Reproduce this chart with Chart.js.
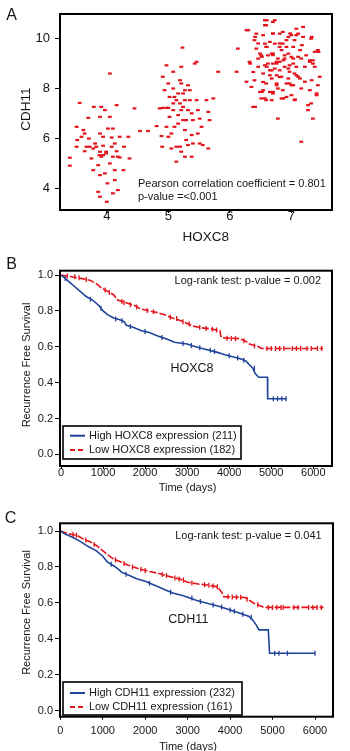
<!DOCTYPE html>
<html>
<head>
<meta charset="utf-8">
<script src="https://cdn.jsdelivr.net/npm/chart.js@4.4.0/dist/chart.umd.min.js"></script>
<style>
  html, body { margin: 0; padding: 0; background: #fff; overflow: hidden; }
  #wrap { position: relative; width: 350px; height: 751px; }
  canvas { position: absolute; left: 0; }
</style>
</head>
<body>
<div id="wrap">
  <canvas id="panelA" width="350" height="250" style="top:0"></canvas>
  <canvas id="panelB" width="350" height="250" style="top:250px"></canvas>
  <canvas id="panelC" width="350" height="260" style="top:500px"></canvas>
</div>
<script>
// ---- panel A: HOXC8 vs CDH11 expression ----
const hoxc8Expr = [
  3.40,3.40,3.56,3.51,3.52,3.62,3.64,3.70,3.71,3.75, 3.78,3.79,3.83,3.86,3.88,3.89,3.91,3.94,3.89,3.91,
  3.97,4.01,4.00,4.02,4.05,4.08,4.10,4.13,4.13,4.16, 4.16,4.18,4.21,4.27,4.28,4.35,4.37,3.67,3.72,3.78,
  3.89,3.94,3.99,4.05,3.86,3.89,4.10,4.05,3.51,3.59, 3.64,3.81,3.89,4.10,4.18,3.99,3.94,3.97,4.08,4.13,
  4.21,4.45,4.54,4.67,4.81,
  4.89,4.90,4.91,4.94,4.97,5.00,5.02,5.00,5.05,5.08, 5.08,5.10,5.13,5.16,5.16,5.19,5.21,5.23,5.24,5.24,
  5.27,5.29,5.32,5.35,5.38,5.38,5.40,5.43,5.46,5.46, 5.48,5.51,5.54,5.56,5.62,5.65,5.67,5.73,5.81,5.65,
  5.19,5.13,5.21,5.05,4.97,5.10,5.24,5.29,5.32,5.08, 5.02,5.08,5.16,5.21,5.27,5.35,5.40,5.48,5.51,4.86,
  4.91,4.97,5.27,5.00,5.19,5.21,5.13,5.27,5.32,5.38,
  6.11,6.13,6.27,6.27,6.32,6.35,6.38,6.40,6.43,6.46, 6.49,6.51,6.54,6.57,6.57,6.59,6.62,6.65,6.68,6.70,
  6.70,6.73,6.76,6.78,6.81,6.81,6.84,6.86,6.89,6.92, 6.95,6.97,7.00,7.03,7.05,7.05,7.08,7.11,7.14,7.16,
  7.19,7.22,7.24,7.27,7.30,7.32,7.35,7.38,7.41,7.43, 7.46,7.16,6.43,6.49,6.54,6.59,6.62,6.68,6.73,6.78,
  6.84,6.89,6.95,7.00,7.05,7.11,7.14,6.68,6.76,6.86, 6.92,6.97,7.03,7.08,6.59,6.65,6.70,6.76,6.81,6.86,
  6.92,7.00,6.78,6.84,6.40,6.46,6.59,6.65,7.22,7.30, 7.38,6.70,6.81,6.89,6.95,6.73,6.68,6.57,6.51,7.03,
  7.11,7.16,7.32,7.35,7.43,6.97,6.54,
  6.60,6.70,6.30,6.57,7.19,6.41,6.70,6.98,7.08,7.33, 6.46,6.60,6.81,6.92,7.17,7.44,6.52,6.70,6.87,7.03,
  7.30,6.33,6.60,6.76,6.95,7.35,6.38,6.65,6.81,7.08, 6.54,6.76,7.00,7.33,6.52,6.70,6.87,7.06,6.57,6.41,
  7.27,7.41
];
const cdh11Expr = [
  5.23,4.91,7.43,6.47,5.94,6.34,5.49,6.83,6.00,5.20, 4.73,7.27,5.67,4.93,5.33,6.87,7.27,5.71,4.53,5.27,
  4.60,4.20,3.46,6.40,6.87,6.04,5.27,5.80,4.33,7.34, 5.49,3.93,5.24,4.73,5.67,6.07,5.20,5.67,5.67,5.60,
  5.47,5.33,5.47,5.00,3.86,3.66,3.80,8.61,5.67,6.07, 6.20,5.80,6.20,6.40,5.27,5.40,6.07,7.14,5.67,4.73,
  6.07,7.21,6.30,6.30,6.50,
  6.10,5.67,8.48,7.94,8.94,7.23,6.87,6.07,5.60,8.68, 8.01,7.67,7.54,6.94,6.60,8.34,8.88,9.65,7.81,7.27,
  6.34,5.94,8.14,7.54,7.01,6.14,5.80,9.01,9.08,7.54, 7.14,6.80,6.47,5.74,7.54,7.07,6.74,7.61,8.68,5.60,
  5.67,5.07,5.47,6.20,6.47,6.47,6.74,6.74,7.14,7.14, 7.67,7.41,7.81,8.21,7.94,7.94,6.74,6.20,5.80,7.21,
  7.23,7.23,7.54,8.21,7.41,7.14,5.67,5.27,5.74,5.27,
  8.68,9.61,10.35,8.28,9.08,8.07,7.27,9.95,9.61,8.88, 7.87,7.61,10.15,9.81,10.75,10.55,9.34,8.74,8.41,10.21,
  7.81,10.75,9.08,6.80,9.68,8.74,8.48,9.81,9.34,8.21, 10.08,8.94,7.74,9.68,8.61,7.54,10.41,9.28,8.41,8.01,
  10.08,8.88,9.34,7.14,7.94,10.01,9.14,8.88,7.74,9.55, 8.48,5.87,10.21,9.41,8.61,8.21,9.01,9.41,9.81,9.21,
  9.55,8.88,8.41,9.28,9.95,10.21,9.55,7.54,8.21,7.94, 7.67,8.68,8.14,8.88,9.68,9.88,9.01,8.54,10.21,10.28,
  9.95,10.15,8.01,7.61,8.34,9.21,7.54,7.87,8.28,9.08, 9.48,9.41,9.08,9.21,9.41,8.81,8.74,8.94,9.34,9.01,
  8.48,9.21,7.41,6.80,8.14,8.21,7.94,
  10.75,10.68,10.35,10.55,10.48,10.08,10.22,10.22,10.15,10.08, 9.82,9.68,9.82,9.68,9.75,9.48,9.28,9.35,9.14,9.21,
  9.14,9.01,8.88,9.01,8.81,9.01,8.67,8.54,8.47,8.54, 8.27,8.14,8.14,8.34,7.87,7.87,7.61,7.57,7.61,7.27,
  7.34,7.81
];
const hoxc8Ticks = [4, 5, 6, 7];
const cdh11Ticks = [4, 6, 8, 10];

// ---- panels B and C: recurrence free survival ----
const dayTicks = [0, 1000, 2000, 3000, 4000, 5000, 6000];
const survTicks = [0, 0.2, 0.4, 0.6, 0.8, 1.0];

const hoxHighDays = [0,80,200,300,450,600,750,900,1000,1100,1250,1400,1500,1550,1700,1900,2100,2300,2500,2700,3000,3200,3450,3700,3900,4150,4300,4400,4480,4560,4620,4700,4910,4915,5360];
const hoxHighSurv = [1.0,0.985,0.96,0.94,0.91,0.88,0.86,0.83,0.80,0.78,0.76,0.75,0.74,0.72,0.71,0.69,0.68,0.66,0.645,0.625,0.615,0.60,0.585,0.57,0.555,0.54,0.53,0.52,0.50,0.48,0.45,0.43,0.43,0.31,0.31];
const hoxLowDays = [0,250,500,700,850,950,1100,1250,1350,1550,1750,1900,2100,2300,2500,2650,2850,3000,3150,3350,3550,3780,3800,3830,4250,4400,4480,4700,4770,6230];
const hoxLowSurv = [1.0,0.99,0.98,0.97,0.95,0.93,0.91,0.89,0.86,0.845,0.83,0.81,0.80,0.79,0.775,0.76,0.745,0.73,0.715,0.705,0.70,0.69,0.66,0.65,0.645,0.63,0.615,0.60,0.59,0.59];
const hoxHighCensDays = [100,700,950,1300,1450,1650,2000,2400,2900,3100,3300,3550,3650,4000,4200,4350,4600,5050,5150,5250,5350];
const hoxHighCensSurv = [0.98,0.865,0.815,0.755,0.745,0.713,0.685,0.652,0.618,0.607,0.594,0.58,0.573,0.55,0.537,0.525,0.48,0.31,0.31,0.31,0.31];
const hoxLowCensDays = [150,330,430,600,1050,1150,1450,1500,1650,1800,2050,2200,2600,2750,2900,3050,3300,3450,3600,3700,3950,4050,4150,4350,4600,4900,5000,5100,5200,5300,5500,5600,5700,5850,5950,6100,6200];
const hoxLowCensSurv = [0.995,0.99,0.985,0.975,0.917,0.903,0.852,0.845,0.834,0.822,0.802,0.795,0.765,0.757,0.74,0.727,0.707,0.702,0.697,0.694,0.647,0.646,0.645,0.634,0.604,0.59,0.59,0.59,0.59,0.59,0.59,0.59,0.59,0.59,0.59,0.59,0.59];

const cdhHighDays = [0,100,250,450,650,850,1000,1100,1300,1450,1600,1800,2000,2250,2450,2650,2900,3200,3500,3750,3950,4200,4450,4550,4620,4680,4900,4930,6000];
const cdhHighSurv = [1.0,0.985,0.97,0.945,0.915,0.89,0.86,0.83,0.80,0.77,0.755,0.735,0.72,0.695,0.675,0.655,0.64,0.615,0.595,0.58,0.565,0.545,0.525,0.50,0.475,0.45,0.45,0.32,0.32];
const cdhLowDays = [0,200,400,550,700,850,950,1100,1250,1400,1600,1850,2100,2300,2600,2850,3000,3250,3450,3700,3800,3850,4350,4450,4550,4750,4800,6200];
const cdhLowSurv = [1.0,0.985,0.975,0.955,0.94,0.92,0.90,0.87,0.845,0.83,0.81,0.79,0.775,0.765,0.745,0.73,0.715,0.705,0.70,0.69,0.66,0.635,0.63,0.615,0.60,0.58,0.575,0.575];
const cdhHighCensDays = [1200,1550,2100,2600,3100,3300,3600,3800,4000,4100,4300,4500,5050,5150,5350,6000];
const cdhHighCensSurv = [0.815,0.76,0.71,0.66,0.627,0.608,0.589,0.577,0.56,0.553,0.537,0.52,0.32,0.32,0.32,0.32];
const cdhLowCensDays = [300,380,600,800,1300,1500,1700,1900,2000,2400,2500,2700,2800,2900,3100,3400,3500,3600,3700,3950,4050,4150,4250,4400,4650,4900,5000,5100,5200,5250,5500,5600,5850,5950,6050,6150];
const cdhLowCensSurv = [0.98,0.977,0.95,0.925,0.84,0.82,0.80,0.787,0.781,0.758,0.752,0.739,0.733,0.727,0.711,0.701,0.698,0.694,0.69,0.634,0.633,0.632,0.631,0.62,0.59,0.575,0.575,0.575,0.575,0.575,0.575,0.575,0.575,0.575,0.575,0.575];

const FONT = "'Liberation Sans', Arial, sans-serif";
const RED = '#e3131b';
const BLUE = '#20439a';
const INK = '#161616';

Chart.defaults.font.family = FONT;
Chart.defaults.color = INK;

const pairs = (xs, ys) => xs.map((x, i) => ({ x: x, y: ys[i] }));

// frame, panel letter, annotations and the boxed legend
const panelDecor = {
  id: 'panelDecor',
  afterDraw(chart, args, opts) {
    const { ctx, chartArea: a } = chart;
    ctx.save();
    ctx.strokeStyle = '#000';
    ctx.lineWidth = 2;
    ctx.strokeRect(a.left, a.top, a.right - a.left, a.bottom - a.top);

    ctx.fillStyle = INK;
    ctx.textBaseline = 'middle';
    (opts.texts || []).forEach(t => {
      ctx.save();
      ctx.font = t.size + 'px ' + FONT;
      ctx.textAlign = t.align || 'center';
      ctx.translate(t.x, t.y);
      if (t.rotate) ctx.rotate(t.rotate);
      ctx.fillText(t.text, 0, 0);
      ctx.restore();
    });

    const lg = opts.legend;
    if (lg) {
      ctx.fillStyle = '#fff';
      ctx.fillRect(lg.x, lg.y, lg.w, lg.h);
      ctx.lineWidth = 1.6;
      ctx.strokeStyle = '#000';
      ctx.strokeRect(lg.x, lg.y, lg.w, lg.h);
      lg.items.forEach((it, i) => {
        const y = lg.rows[i];
        ctx.beginPath();
        ctx.strokeStyle = it.color;
        ctx.lineWidth = 2;
        ctx.setLineDash(it.dash || []);
        ctx.moveTo(lg.x + 7, y);
        ctx.lineTo(lg.x + 22, y);
        ctx.stroke();
        ctx.setLineDash([]);
        ctx.fillStyle = INK;
        ctx.font = '11px ' + FONT;
        ctx.textAlign = 'left';
        ctx.fillText(it.text, lg.x + 26, y);
      });
    }
    ctx.restore();
  }
};

function linearAxis(min, max, tickList, o) {
  return {
    type: 'linear',
    min: min,
    max: max,
    afterFit: s => { if (o.width) s.width = o.width; if (o.height) s.height = o.height; },
    afterBuildTicks: s => { s.ticks = tickList.map(v => ({ value: v })); },
    grid: { drawOnChartArea: false, drawTicks: true, tickLength: o.tick, color: '#000', lineWidth: 1 },
    border: { display: false },
    ticks: {
      padding: o.pad,
      autoSkip: false,
      maxRotation: 0,
      color: INK,
      font: { size: o.size, lineHeight: 1 },
      callback: o.fmt || (v => v)
    }
  };
}

const baseOptions = {
  responsive: false,
  animation: false,
  events: [],
  plugins: { legend: { display: false }, tooltip: { enabled: false } }
};

// A
new Chart(document.getElementById('panelA'), {
  type: 'scatter',
  data: {
    datasets: [{
      data: pairs(hoxc8Expr, cdh11Expr),
      pointStyle: 'line',
      pointRadius: 1.9,
      pointBorderWidth: 2.2,
      borderColor: RED,
      backgroundColor: RED
    }]
  },
  options: Object.assign({}, baseOptions, {
    layout: { padding: { top: 14, right: 18, left: 0, bottom: 0 } },
    scales: {
      x: linearAxis(3.24, 7.66, hoxc8Ticks, { height: 40, tick: 3, pad: -3, size: 13 }),
      y: linearAxis(3.13, 11.0, cdh11Ticks, { width: 60, tick: 5, pad: 5, size: 13 })
    },
    plugins: Object.assign({}, baseOptions.plugins, {
      panelDecor: {
        texts: [
          { text: 'A', x: 11.5, y: 15.5, size: 16 },
          { text: 'HOXC8', x: 205.7, y: 237, size: 13.5 },
          { text: 'CDH11', x: 26.7, y: 109, size: 13.5, rotate: -Math.PI / 2 },
          { text: 'Pearson correlation coefficient = 0.801', x: 138, y: 184, size: 11, align: 'left' },
          { text: 'p-value =<0.001', x: 138, y: 196.7, size: 11, align: 'left' }
        ]
      }
    })
  }),
  plugins: [panelDecor]
});

function survivalChart(id, cfg) {
  return new Chart(document.getElementById(id), {
    type: 'line',
    data: {
      datasets: [
        { data: pairs(cfg.highDays, cfg.highSurv), borderColor: BLUE, borderWidth: 1.6, pointRadius: 0, fill: false },
        { data: pairs(cfg.lowDays, cfg.lowSurv), borderColor: RED, borderWidth: 1.6, borderDash: [7, 2], pointRadius: 0, fill: false },
        { data: pairs(cfg.highCensDays, cfg.highCensSurv), showLine: false, pointStyle: 'line', pointRotation: 90,
          pointRadius: 2.5, pointBorderWidth: 1.3, borderColor: BLUE },
        { data: pairs(cfg.lowCensDays, cfg.lowCensSurv), showLine: false, pointStyle: 'line', pointRotation: 90,
          pointRadius: 2.5, pointBorderWidth: 1.3, borderColor: RED }
      ]
    },
    options: Object.assign({}, baseOptions, {
      layout: { padding: { top: cfg.top, right: cfg.right, left: 0, bottom: 0 } },
      scales: {
        x: linearAxis(cfg.xMin, cfg.xMax, dayTicks, { height: cfg.xHeight, tick: 3, pad: cfg.xPad, size: 11 }),
        y: linearAxis(cfg.yMin, cfg.yMax, survTicks, { width: 60, tick: 5, pad: 2, size: 11, fmt: v => v.toFixed(1) })
      },
      plugins: Object.assign({}, baseOptions.plugins, { panelDecor: cfg.decor })
    }),
    plugins: [panelDecor]
  });
}

// B
survivalChart('panelB', {
  highDays: hoxHighDays, highSurv: hoxHighSurv, lowDays: hoxLowDays, lowSurv: hoxLowSurv,
  highCensDays: hoxHighCensDays, highCensSurv: hoxHighCensSurv,
  lowCensDays: hoxLowCensDays, lowCensSurv: hoxLowCensSurv,
  top: 20.7, right: 18, xHeight: 34, xPad: -2, xMin: -24, xMax: 6445, yMin: -0.065, yMax: 1.024,
  decor: {
    texts: [
      { text: 'B', x: 11.5, y: 14.8, size: 16 },
      { text: 'Log-rank test: p-value = 0.002', x: 321, y: 31, size: 11, align: 'right' },
      { text: 'HOXC8', x: 192, y: 119, size: 12.5 },
      { text: 'Recurrence Free Survival', x: 26.7, y: 115, size: 11, rotate: -Math.PI / 2 },
      { text: 'Time (days)', x: 187.5, y: 237.7, size: 11 }
    ],
    legend: {
      x: 63, y: 176, w: 178, h: 33, rows: [185.7, 200],
      items: [
        { text: 'High HOXC8 expression (211)', color: BLUE },
        { text: 'Low HOXC8 expression (182)', color: RED, dash: [5, 3] }
      ]
    }
  }
});

// C
survivalChart('panelC', {
  highDays: cdhHighDays, highSurv: cdhHighSurv, lowDays: cdhLowDays, lowSurv: cdhLowSurv,
  highCensDays: cdhHighCensDays, highCensSurv: cdhHighCensSurv,
  lowCensDays: cdhLowCensDays, lowCensSurv: cdhLowCensSurv,
  top: 23.3, right: 17, xHeight: 43.3, xPad: 6, xMin: -7, xMax: 6424, yMin: -0.033, yMax: 1.043,
  decor: {
    texts: [
      { text: 'C', x: 10.5, y: 19, size: 16 },
      { text: 'Log-rank test: p-value = 0.041', x: 321.7, y: 36, size: 11, align: 'right' },
      { text: 'CDH11', x: 188.3, y: 120, size: 12.5 },
      { text: 'Recurrence Free Survival', x: 26.7, y: 112.5, size: 11, rotate: -Math.PI / 2 },
      { text: 'Time (days)', x: 188, y: 246.7, size: 11 }
    ],
    legend: {
      x: 63, y: 182, w: 179, h: 33, rows: [193, 207],
      items: [
        { text: 'High CDH11 expression (232)', color: BLUE },
        { text: 'Low CDH11 expression (161)', color: RED, dash: [5, 3] }
      ]
    }
  }
});
</script>
</body>
</html>
